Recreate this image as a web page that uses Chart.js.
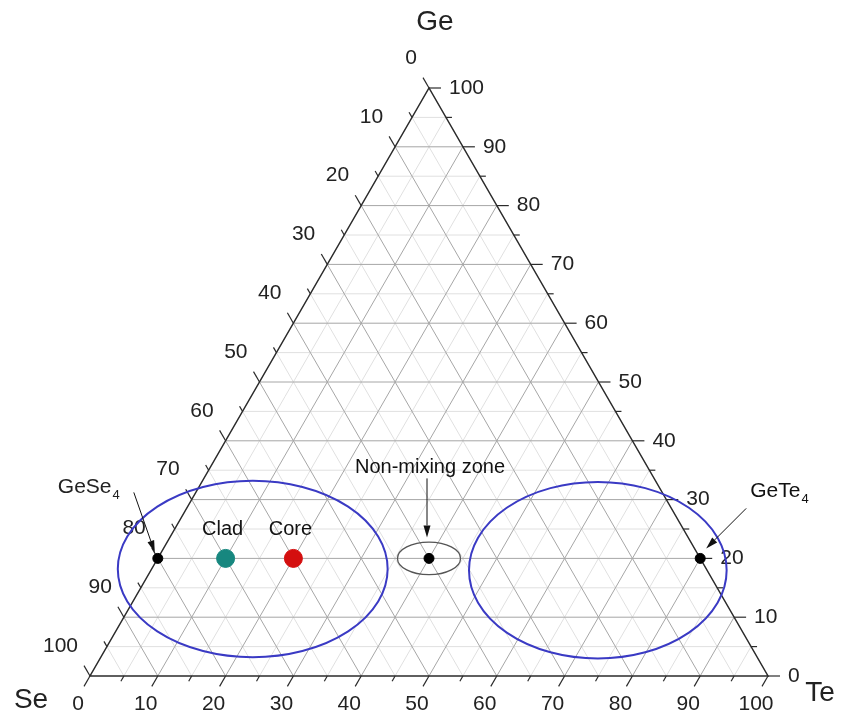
<!DOCTYPE html>
<html lang="en">
<head>
  <meta charset="UTF-8">
  <title>Ge-Se-Te ternary diagram</title>
  <script src="https://cdn.jsdelivr.net/npm/chart.js"></script>
  <style>
    body { margin: 0; background: #fff; }
    canvas { display: block; }
  </style>
</head>
<body>
<canvas id="ternary" width="841" height="718"></canvas>

<script>
// composition points (atomic %), Se = 100 - Te - Ge
const pointNames = ['GeSe4', 'Clad', 'Core', 'Non-mixing', 'GeTe4'];
const teValues = [0, 10, 20, 40, 80];
const geValues = [20, 20, 20, 20, 20];

// axis ticks (%)
const majorTicks = [0, 10, 20, 30, 40, 50, 60, 70, 80, 90, 100];
const minorTicks = [5, 15, 25, 35, 45, 55, 65, 75, 85, 95];

// ellipses: centre (Te, Ge) and half-widths in % units
const ellipseTe = [14.9, 65.9, 40];
const ellipseGe = [18.2, 18.0, 20];
const ellipseRx = [19.9, 19.0, 4.65];
const ellipseRy = [13.0, 13.0, 2.4];

const H = Math.sqrt(3) / 2;
const toX = (te, ge) => te + ge / 2;
const toY = (te, ge) => ge * H;

const FONT = '"Liberation Sans", Arial, sans-serif';

function pix(chart, te, ge) {
  const xs = chart.scales.x, ys = chart.scales.y;
  return [xs.getPixelForValue(toX(te, ge)), ys.getPixelForValue(toY(te, ge))];
}

function line(ctx, a, b) {
  ctx.beginPath();
  ctx.moveTo(a[0], a[1]);
  ctx.lineTo(b[0], b[1]);
  ctx.stroke();
}

function arrow(ctx, x1, y1, x2, y2) {
  const ang = Math.atan2(y2 - y1, x2 - x1);
  const hl = 12, hw = 3.5;
  ctx.strokeStyle = '#111';
  ctx.lineWidth = 1;
  ctx.beginPath();
  ctx.moveTo(x1, y1);
  ctx.lineTo(x2 - Math.cos(ang) * hl, y2 - Math.sin(ang) * hl);
  ctx.stroke();
  ctx.fillStyle = '#111';
  ctx.beginPath();
  ctx.moveTo(x2, y2);
  ctx.lineTo(x2 - Math.cos(ang) * hl - Math.sin(ang) * hw, y2 - Math.sin(ang) * hl + Math.cos(ang) * hw);
  ctx.lineTo(x2 - Math.cos(ang) * hl + Math.sin(ang) * hw, y2 - Math.sin(ang) * hl - Math.cos(ang) * hw);
  ctx.closePath();
  ctx.fill();
}

const ternaryPlugin = {
  id: 'ternary',
  beforeDatasetsDraw(chart) {
    const ctx = chart.ctx;
    ctx.save();

    // grid
    const drawGrid = (vals, color) => {
      ctx.strokeStyle = color;
      ctx.lineWidth = 1;
      vals.forEach(v => {
        if (v <= 0 || v >= 100) return;
        line(ctx, pix(chart, 0, v), pix(chart, 100 - v, v));       // Ge const
        line(ctx, pix(chart, v, 0), pix(chart, v, 100 - v));       // Te const
        line(ctx, pix(chart, 100 - v, 0), pix(chart, 0, 100 - v)); // Se const
      });
    };
    drawGrid(minorTicks, '#e0e0e0');
    drawGrid(majorTicks, '#a6a6a6');

    // triangle edges
    ctx.strokeStyle = '#2b2b2b';
    ctx.lineWidth = 1.5;
    ctx.beginPath();
    const A = pix(chart, 0, 0), B = pix(chart, 100, 0), C = pix(chart, 0, 100);
    ctx.moveTo(A[0], A[1]); ctx.lineTo(B[0], B[1]); ctx.lineTo(C[0], C[1]); ctx.closePath();
    ctx.stroke();

    // ticks
    const tick = (v, len) => {
      let p = pix(chart, v, 0);
      line(ctx, p, [p[0] - 0.5 * len, p[1] + H * len]);              // Te (bottom)
      p = pix(chart, 100 - v, v);
      line(ctx, p, [p[0] + len, p[1]]);                                // Ge (right)
      p = pix(chart, 0, 100 - v);
      line(ctx, p, [p[0] - 0.5 * len, p[1] - H * len]);              // Se (left)
    };
    ctx.lineWidth = 1.2;
    majorTicks.forEach(v => tick(v, 12));
    minorTicks.forEach(v => tick(v, 6));

    // tick labels
    ctx.fillStyle = '#222';
    ctx.font = '21px ' + FONT;
    ctx.textBaseline = 'middle';
    majorTicks.forEach(v => {
      let p = pix(chart, v, 0);
      ctx.textAlign = 'center';
      ctx.fillText(String(v), p[0] - 12, p[1] + 28);
      p = pix(chart, 100 - v, v);
      ctx.textAlign = 'left';
      ctx.fillText(String(v), p[0] + 20, p[1]);
      p = pix(chart, 0, 100 - v);
      ctx.textAlign = 'right';
      ctx.fillText(String(v), p[0] - 12, p[1] - 30);
    });

    // axis titles
    ctx.font = '28px ' + FONT;
    ctx.textAlign = 'center';
    ctx.fillText('Ge', C[0] + 6, C[1] - 66);
    ctx.fillText('Se', A[0] - 59, A[1] + 24);
    ctx.fillText('Te', B[0] + 52, B[1] + 17);

    // ellipses
    const xs = chart.scales.x, ys = chart.scales.y;
    const ux = xs.getPixelForValue(1) - xs.getPixelForValue(0);
    const uy = ys.getPixelForValue(0) - ys.getPixelForValue(1);
    ellipseTe.forEach((te, i) => {
      const c = pix(chart, te, ellipseGe[i]);
      ctx.strokeStyle = i < 2 ? '#3a3ac4' : '#555';
      ctx.lineWidth = i < 2 ? 2 : 1.3;
      ctx.beginPath();
      ctx.ellipse(c[0], c[1], ellipseRx[i] * ux, ellipseRy[i] * uy, 0, 0, Math.PI * 2);
      ctx.stroke();
    });
    ctx.restore();
  },
  afterDatasetsDraw(chart) {
    const ctx = chart.ctx;
    ctx.save();
    ctx.fillStyle = '#222';
    ctx.textBaseline = 'middle';
    const p = teValues.map((te, i) => pix(chart, te, geValues[i]));

    // GeSe4
    ctx.font = '21px ' + FONT;
    ctx.textAlign = 'left';
    ctx.fillText('GeSe', p[0][0] - 100, p[0][1] - 71);
    let w = ctx.measureText('GeSe').width;
    ctx.font = '13px ' + FONT;
    ctx.fillText('4', p[0][0] - 100 + w + 1, p[0][1] - 63);
    arrow(ctx, p[0][0] - 24, p[0][1] - 66, p[0][0] - 3, p[0][1] - 6);

    // Clad / Core
    ctx.font = '20px ' + FONT;
    ctx.textAlign = 'center';
    ctx.fillText('Clad', p[1][0] - 3, p[1][1] - 29);
    ctx.fillText('Core', p[2][0] - 3, p[2][1] - 29);

    // Non-mixing zone
    ctx.fillText('Non-mixing zone', p[3][0] + 1, p[3][1] - 91);
    arrow(ctx, p[3][0] - 2, p[3][1] - 80, p[3][0] - 2, p[3][1] - 21);

    // GeTe4
    ctx.font = '21px ' + FONT;
    ctx.textAlign = 'left';
    ctx.fillText('GeTe', p[4][0] + 50, p[4][1] - 67);
    w = ctx.measureText('GeTe').width;
    ctx.font = '13px ' + FONT;
    ctx.fillText('4', p[4][0] + 50 + w + 1, p[4][1] - 59);
    arrow(ctx, p[4][0] + 46, p[4][1] - 50, p[4][0] + 6, p[4][1] - 10);
    ctx.restore();
  }
};

const pointColors = ['#000', '#17877f', '#d40f0f', '#000', '#000'];
const pointRadii = [5, 9, 9, 5, 5];

new Chart(document.getElementById('ternary'), {
  type: 'scatter',
  data: {
    datasets: [{
      label: 'Compositions',
      data: teValues.map((te, i) => ({ x: toX(te, geValues[i]), y: toY(te, geValues[i]), name: pointNames[i] })),
      pointBackgroundColor: pointColors,
      pointBorderColor: pointColors,
      pointRadius: pointRadii,
      clip: false
    }]
  },
  options: {
    responsive: false,
    animation: false,
    layout: { padding: { left: 90, right: 73, top: 88, bottom: 42 } },
    plugins: { legend: { display: false }, tooltip: { enabled: false } },
    scales: {
      x: { type: 'linear', min: 0, max: 100, display: false },
      y: { type: 'linear', min: 0, max: 100 * H, display: false }
    }
  },
  plugins: [ternaryPlugin]
});
</script>
</body>
</html>
